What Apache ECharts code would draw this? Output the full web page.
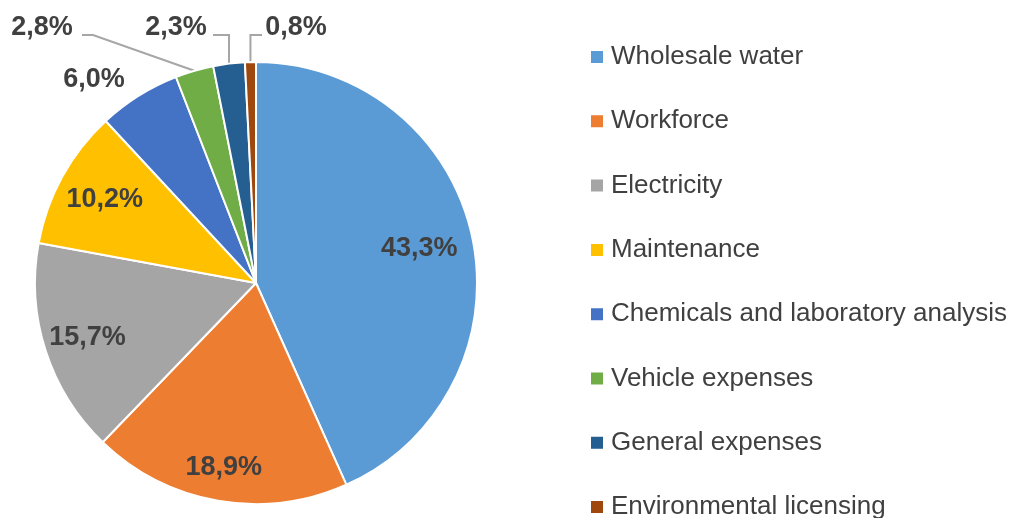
<!DOCTYPE html>
<html>
<head>
<meta charset="utf-8">
<script src="https://cdn.jsdelivr.net/npm/echarts@6/dist/echarts.min.js"></script>
<style>
  html, body { margin: 0; padding: 0; background: #fff; }
  #chart { width: 1015px; height: 518px; }
</style>
</head>
<body>
<div id="chart"></div>
<script>
const categories = [
  "Wholesale water",
  "Workforce",
  "Electricity",
  "Maintenance",
  "Chemicals and laboratory analysis",
  "Vehicle expenses",
  "General expenses",
  "Environmental licensing"
];
const shares = [43.3, 18.9, 15.7, 10.2, 6.0, 2.8, 2.3, 0.8];
const colors = ["#5B9BD5", "#ED7D31", "#A5A5A5", "#FFC000", "#4472C4", "#70AD47", "#255E91", "#9E480E"];

const cx = 256, cy = 283, radius = 221;
const labelFont = { color: "#404040", fontSize: 27, fontWeight: "bold", fontFamily: "Liberation Sans, Arial, sans-serif" };

// inside labels: push out from the default half-radius spot
const insideStretch = [1.47, 1.65, 1.56, 1.52];
// outside labels: label centre and leader elbow
const outsideLabels = {
  4: { x: 94, y: 80 },
  5: { x: 42, y: 28, elbow: "diag", elbowX: 93, endX: 82 },
  6: { x: 176, y: 28, elbow: "vert", endX: 213 },
  7: { x: 296, y: 28, elbow: "vert", endX: 262 }
};
const elbowY = 35;

const chart = echarts.init(document.getElementById("chart"));

chart.setOption({
  animation: false,
  color: colors,
  legend: {
    orient: "vertical",
    left: 584,
    top: 39,
    height: 560,
    padding: 5,
    icon: "rect",
    itemWidth: 14,
    itemHeight: 14,
    itemGap: 38.3,
    textStyle: { color: "#404040", fontSize: 26, padding: [0, 0, 0, 2], fontFamily: "Liberation Sans, Arial, sans-serif" },
    data: categories
  },
  series: [{
    type: "pie",
    center: [cx, cy],
    radius: [0, radius],
    startAngle: 90,
    clockwise: true,
    avoidLabelOverlap: false,
    itemStyle: { borderColor: "#fff", borderWidth: 2 },
    emphasis: { disabled: true },
    label: Object.assign({ show: true, position: "inside", formatter: p => p.value.toFixed(1).replace(".", ",") + "%" }, labelFont),
    labelLine: { show: true, length: 10, length2: 10, lineStyle: { color: "#A6A6A6", width: 2 } },
    data: categories.map((name, i) => {
      const d = { name: name, value: shares[i] };
      if (i >= 4) {
        d.label = { position: "outside" };
        d.labelLine = { show: i !== 4 };
      }
      return d;
    }),
    labelLayout: function (p) {
      const i = p.dataIndex;
      if (i < 4) {
        const lx = p.labelRect.x + p.labelRect.width / 2;
        const ly = p.labelRect.y + p.labelRect.height / 2;
        const k = insideStretch[i];
        return { x: cx + (lx - cx) * k, y: cy + (ly - cy) * k, align: "center", verticalAlign: "middle" };
      }
      const o = outsideLabels[i];
      const res = { x: o.x, y: o.y, align: "center", verticalAlign: "middle" };
      if (o.elbow && p.labelLinePoints) {
        const s = p.labelLinePoints[0];
        const ex = o.elbow === "vert" ? s[0] : o.elbowX;
        res.labelLinePoints = [[s[0], s[1]], [ex, elbowY], [o.endX, elbowY]];
      }
      return res;
    }
  }]
});
</script>
</body>
</html>
